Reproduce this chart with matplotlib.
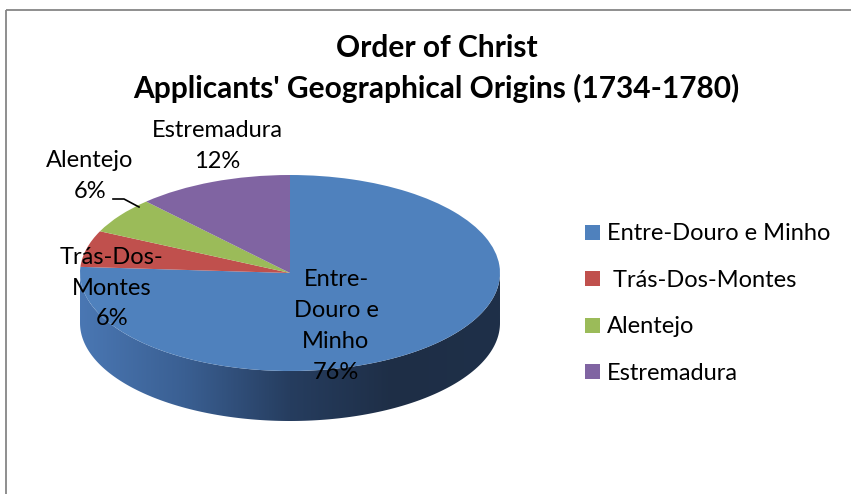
import numpy as np
import matplotlib
matplotlib.use('Agg')
import matplotlib.pyplot as plt
from matplotlib.patches import Rectangle, PathPatch
from matplotlib.path import Path
from matplotlib.colors import LinearSegmentedColormap

plt.rcParams['font.family'] = ['Lato', 'DejaVu Sans']

# data
regions = ['Entre-Douro e Minho', 'Trás-Dos-Montes', 'Alentejo', 'Estremadura']
legend_labels = ['Entre-Douro e Minho', ' Trás-Dos-Montes', 'Alentejo', 'Estremadura']
slice_labels = ['Entre-\nDouro e\nMinho', 'Trás-Dos-\nMontes', 'Alentejo', 'Estremadura']
shares = [76, 6, 6, 12]
colors = ['#4f81bd', '#c0504d', '#9bbb59', '#8064a2']

W, H = 851, 494
fig = plt.figure(figsize=(W / 100, H / 100), dpi=100)

# chart area border
bg = fig.add_axes([0, 0, 1, 1])
bg.set_xlim(0, W)
bg.set_ylim(H, 0)
bg.axis('off')
bg.add_patch(Rectangle((6, 10.5), W + 20, H + 20, fill=False, ec='#868686', lw=1.3))

# pie geometry in pixels
cx, cy, rx, ry, depth = 290, 273, 210, 98, 50
d = depth / ry
ax = fig.add_axes([(cx - rx) / W, 1 - (cy + ry + depth) / H, 2 * rx / W, (2 * ry + depth) / H])

# side of the cake (front half)
t = np.linspace(np.pi, 2 * np.pi, 200)
top = np.column_stack([np.cos(t), np.sin(t)])
bot = np.column_stack([np.cos(t[::-1]), np.sin(t[::-1]) - d])
side = Path(np.vstack([top, bot, top[:1]]), closed=True)
side_patch = PathPatch(side, fc='none', ec='none')
ax.add_patch(side_patch)
cmap = LinearSegmentedColormap.from_list('side', ['#4a77b3', '#3a5f92', '#263d5f', '#1e2e46', '#1f3049'])
grad = np.linspace(0, 1, 256).reshape(1, -1)
img = ax.imshow(grad, cmap=cmap, extent=(-1, 1, -1 - d, 0), aspect='auto', zorder=1)
img.set_clip_path(side_patch)

wedges, _ = ax.pie(shares, colors=colors, startangle=90, counterclock=False,
                   wedgeprops=dict(linewidth=0))
for w in wedges:
    w.set_zorder(2)
ax.set_aspect('auto')
ax.set_xlim(-1, 1)
ax.set_ylim(-1 - d, 1)
ax.axis('off')

# overlay for labels, above the pie
ov = fig.add_axes([0, 0, 1, 1])
ov.set_xlim(0, W)
ov.set_ylim(H, 0)
ov.axis('off')
ov.patch.set_alpha(0)

fs = 17
ls = 1.58
pcts = ['%d%%' % v for v in shares]
ov.text(336, 326, slice_labels[0] + '\n' + pcts[0], ha='center', va='center',
        fontsize=fs, linespacing=ls)
ov.text(112, 288, slice_labels[1] + '\n' + pcts[1], ha='center', va='center',
        fontsize=fs, linespacing=ls)
ov.text(90, 176, slice_labels[2] + '\n' + pcts[2], ha='center', va='center',
        fontsize=fs, linespacing=ls)
ov.text(217, 146, slice_labels[3] + '\n' + pcts[3], ha='center', va='center',
        fontsize=fs, linespacing=ls)
ov.plot([113, 124, 139], [199, 199, 207], color='black', lw=1.2)

# title
fig.text(0.513, 1 - 48 / H, 'Order of Christ', ha='center', va='center',
         fontsize=21.5, fontweight='bold')
fig.text(0.513, 1 - 88 / H, "Applicants' Geographical Origins (1734-1780)", ha='center',
         va='center', fontsize=21.5, fontweight='bold')

# legend
fig.legend(wedges, legend_labels, loc='upper left', bbox_to_anchor=(576 / W, 1 - 214 / H),
           frameon=False, fontsize=fs, handlelength=0.6, handleheight=0.6,
           handletextpad=0.3, labelspacing=1.08, borderaxespad=0)

fig.savefig('out.png', dpi=100)
